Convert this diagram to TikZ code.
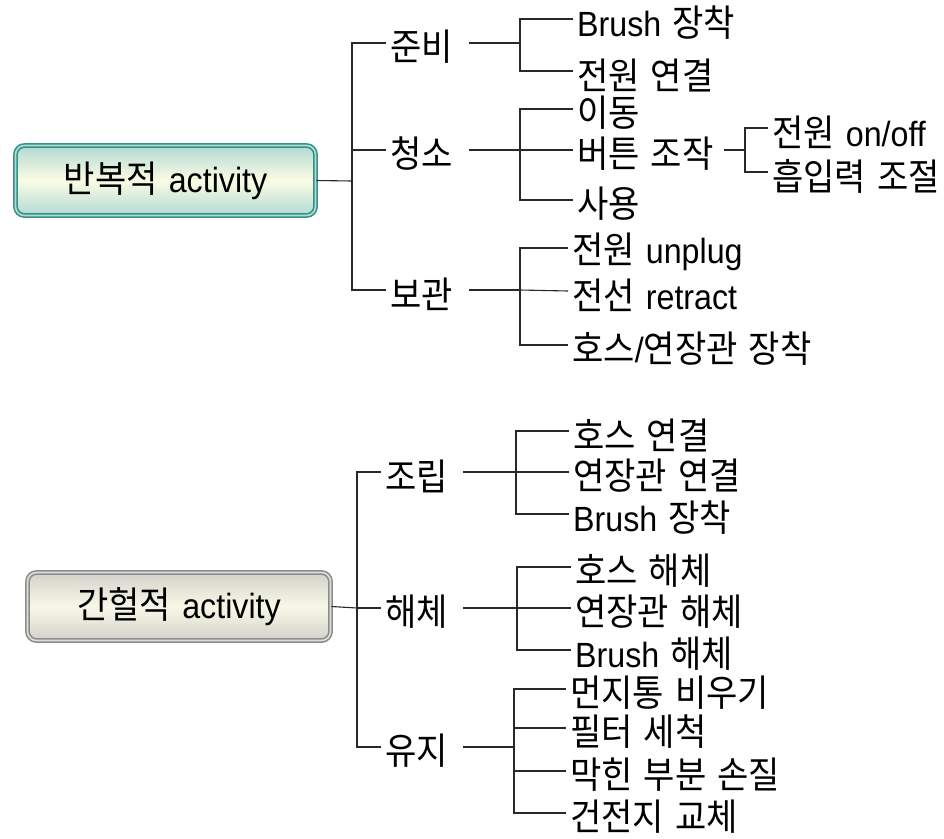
\documentclass[tikz,border=0pt]{standalone}
\usepackage{fontspec}
\setmainfont{Noto Sans CJK KR}[WordSpace=1.45, FakeStretch=0.92]
\newfontfamily\latfont{Liberation Sans}[Scale=0.946, FakeStretch=0.92]
\newcommand\lat[1]{{\latfont #1}}
\definecolor{tealline}{RGB}{52,146,136}
\definecolor{tealfill}{RGB}{178,218,212}
\definecolor{creamfill}{RGB}{250,252,228}
\definecolor{grayline}{RGB}{140,140,140}
\definecolor{grayfill}{RGB}{210,210,202}
\definecolor{graycream}{RGB}{248,248,232}
\definecolor{conn}{RGB}{40,40,40}
\tikzset{
  txt/.style={anchor=west, inner sep=4pt, font=\fontsize{37}{40}\selectfont, text=black},
  rootA/.style={draw=tealline, line width=1.6pt, double=tealfill, double distance=1.6pt,
    rounded corners=9pt, minimum width=300pt, minimum height=70pt,
    top color=tealfill, bottom color=tealfill, middle color=creamfill,
    font=\fontsize{37}{40}\selectfont},
  rootB/.style={draw=grayline, line width=1.6pt, double=grayfill!70, double distance=1.6pt,
    rounded corners=9pt, minimum width=303pt, minimum height=68pt,
    top color=grayfill, bottom color=grayfill, middle color=graycream,
    font=\fontsize{37}{40}\selectfont},
  con/.style={draw=conn, line width=1.1pt}
}
\begin{document}
\begin{tikzpicture}[x=1pt,y=-1pt]
\useasboundingbox (0,0) rectangle (944,838);
% ---------- top tree ----------
\node[rootA] (r1) at (165.5,180.5) {반복적 \lat{activity}};
\coordinate (t1) at (352,181);
\node[txt] (pA) at (386,47) {준비};
\node[txt] (pB) at (386,154) {청소};
\node[txt] (pC) at (386,294) {보관};
\coordinate (sA) at (520,43);
\coordinate (sB) at (520,150);
\coordinate (sC) at (520,290);
\node[txt] (a1) at (573,23) {\lat{Brush} 장착};
\node[txt] (a2) at (573,75) {전원 연결};
\node[txt] (b1) at (573,113) {이동};
\node[txt] (b2) at (573,154) {버튼 조작};
\node[txt] (b3) at (573,204) {사용};
\coordinate (sE) at (745,150);
\node[txt] (e1) at (768,132) {전원 \lat{on/off}};
\node[txt] (e2) at (768,176) {흡입력 조절};
\node[txt] (c1) at (568,252) {전원 \lat{unplug}};
\node[txt] (c2) at (568,295) {전선 \lat{retract}};
\node[txt] (c3) at (568,349) {호스\lat{/}연장관 장착};

\draw[con] (r1.east) -- (t1);
\draw[con] ([yshift=4pt]pA.west) -| (t1) |- ([yshift=4pt]pC.west);
\draw[con] (t1 |- sB) -- ([yshift=4pt]pB.west);
\draw[con] ([xshift=12pt,yshift=4pt]pA.east) -- (sA);
\draw[con] ([yshift=4pt]a1.west) -| (sA) |- ([yshift=4pt]a2.west);
\draw[con] ([xshift=12pt,yshift=4pt]pB.east) -- (sB);
\draw[con] ([yshift=4pt]b1.west) -| (sB) |- ([yshift=4pt]b3.west);
\draw[con] (sB) -- ([yshift=4pt]b2.west);
\draw[con] ([xshift=6pt,yshift=4pt]b2.east) -- (sE);
\draw[con] ([yshift=4pt]e1.west) -| (sE) |- ([yshift=4pt]e2.west);
\draw[con] ([xshift=12pt,yshift=4pt]pC.east) -- (sC);
\draw[con] ([yshift=4pt]c1.west) -| (sC) |- ([yshift=4pt]c3.west);
\draw[con] (sC) -- ([yshift=4pt]c2.west);

% ---------- bottom tree ----------
\node[rootB] (r2) at (179,606.5) {간헐적 \lat{activity}};
\coordinate (t2) at (357,608);
\node[txt] (qA) at (381,476) {조립};
\node[txt] (qB) at (381,612) {해체};
\node[txt] (qC) at (381,751) {유지};
\coordinate (uA) at (516,472);
\coordinate (uB) at (517,608);
\coordinate (uC) at (514,747);
\node[txt] (f1) at (569,435) {호스 연결};
\node[txt] (f2) at (569,476) {연장관 연결};
\node[txt] (f3) at (569,518) {\lat{Brush} 장착};
\node[txt] (g1) at (571,571) {호스 해체};
\node[txt] (g2) at (571,612) {연장관 해체};
\node[txt] (g3) at (571,654) {\lat{Brush} 해체};
\node[txt] (h1) at (566,693) {먼지통 비우기};
\node[txt] (h2) at (566,732) {필터 세척};
\node[txt] (h3) at (566,775) {막힌 부분 손질};
\node[txt] (h4) at (566,817) {건전지 교체};

\draw[con] (r2.east) -- (t2);
\draw[con] ([yshift=4pt]qA.west) -| (t2) |- ([yshift=4pt]qC.west);
\draw[con] (t2) -- ([yshift=4pt]qB.west);
\draw[con] ([xshift=11pt,yshift=4pt]qA.east) -- (uA);
\draw[con] ([yshift=4pt]f1.west) -| (uA) |- ([yshift=4pt]f3.west);
\draw[con] (uA) -- ([yshift=4pt]f2.west);
\draw[con] ([xshift=11pt,yshift=4pt]qB.east) -- (uB);
\draw[con] ([yshift=4pt]g1.west) -| (uB) |- ([yshift=4pt]g3.west);
\draw[con] (uB) -- ([yshift=4pt]g2.west);
\draw[con] ([xshift=11pt,yshift=4pt]qC.east) -- (uC);
\draw[con] ([yshift=4pt]h1.west) -| (uC) |- ([yshift=4pt]h4.west);
\draw[con] ([yshift=4pt]h2.west) -| (uC);
\draw[con] ([yshift=4pt]h3.west) -| (uC);
\end{tikzpicture}
\end{document}
